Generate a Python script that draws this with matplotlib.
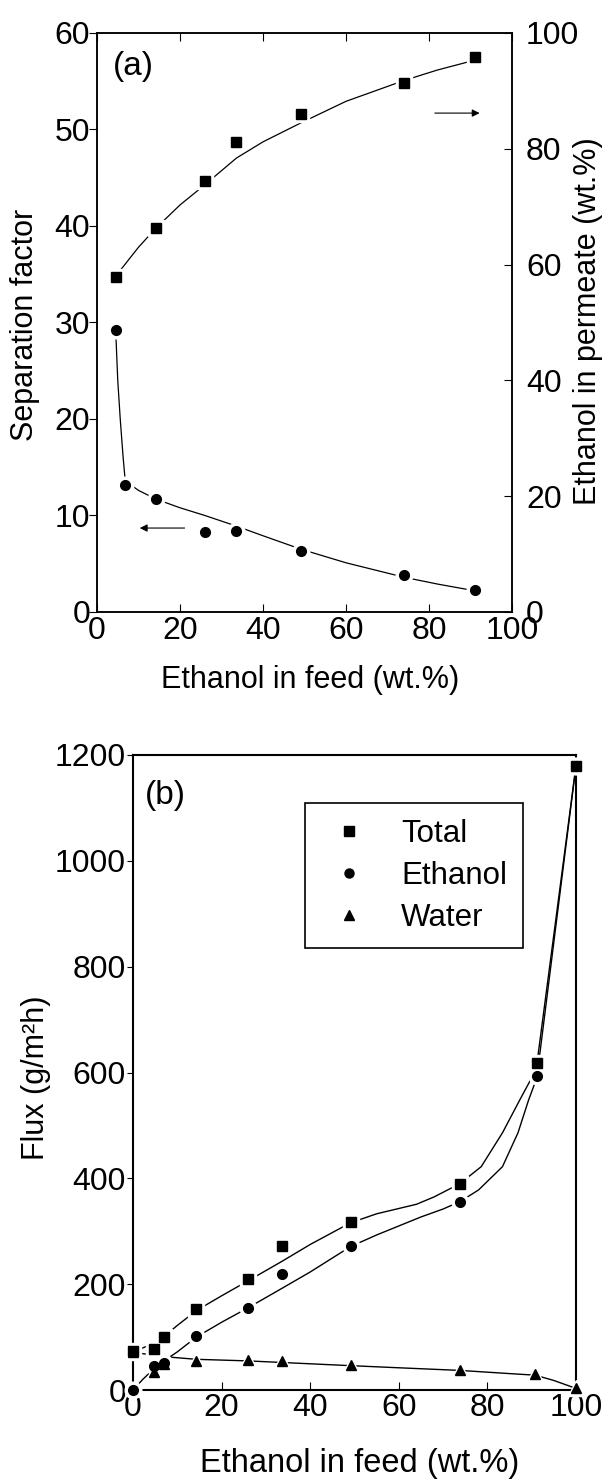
import matplotlib
matplotlib.use("Agg")
import matplotlib.pyplot as plt
from matplotlib.lines import Line2D

plt.rcParams['font.family'] = ['Liberation Sans', 'DejaVu Sans']

# (a) separation factor / permeate composition vs feed composition
feed_sep = [4.5, 6.8, 14.2, 26.0, 33.6, 49.2, 74.0, 91.0]
sep_factor = [29.2, 13.2, 11.7, 8.3, 8.4, 6.35, 3.8, 2.3]
feed_perm = [4.5, 14.2, 26.0, 33.6, 49.2, 74.0, 91.0]
perm_ethanol = [57.9, 66.3, 74.4, 81.1, 86.0, 91.4, 95.8]

# fitted curves
sep_fit_x = [4.5, 5.0, 5.6, 6.3, 6.8, 10, 14.2, 20, 26, 33.6, 40, 49.2, 60, 74, 82, 91]
sep_fit_y = [29.2, 24.0, 20.0, 16.0, 13.6, 12.6, 11.7, 10.8, 10.0, 8.9, 7.9, 6.5, 5.1, 3.6, 2.9, 2.2]
perm_fit_x = [4.5, 10, 14.2, 20, 26, 33.6, 40, 49.2, 60, 74, 82, 91]
perm_fit_y = [58.0, 63.0, 66.3, 70.3, 73.8, 78.4, 81.2, 84.5, 88.2, 91.8, 93.6, 95.3]

# (b) fluxes
feed_flux = [0, 4.7, 7.0, 14.3, 25.9, 33.6, 49.1, 73.8, 91.2, 100]
flux_total = [74, 78, 101, 154, 209, 272, 318, 390, 618, 1180]
flux_ethanol = [0, 45, 51, 102, 155, 219, 273, 356, 593, 1180]
feed_water = [0, 4.7, 7.0, 14.3, 25.9, 33.6, 49.1, 73.8, 90.8, 100]
flux_water = [72, 34, 50, 54, 56, 54, 48, 38, 31, 3]

total_fit_x = [0, 4.7, 7, 10, 14.3, 20, 25.9, 33.6, 40, 49.1, 55, 60, 64, 68, 73.8, 78.6, 83.4, 87.3, 90, 91.2, 100]
total_fit_y = [72, 88, 101, 122, 150, 178, 206, 243, 275, 316, 333, 343, 351, 365, 390, 422, 486, 548, 590, 618, 1180]
eth_fit_x = [0, 2.2, 4.7, 7, 10, 14.3, 20, 25.9, 33.6, 40, 49.1, 55, 60, 65, 70, 73.8, 78, 83.4, 86.9, 89.3, 90.5, 91.2, 100]
eth_fit_y = [0, 20, 40, 55, 72, 100, 128, 155, 192, 223, 271, 293, 310, 327, 342, 356, 378, 422, 486, 548, 575, 593, 1180]
water_fit_x = [0, 4.7, 7, 14.3, 25.9, 33.6, 49.1, 60, 73.8, 85, 90.8, 95, 100]
water_fit_y = [71, 66, 63, 58, 55, 52, 46, 42, 37, 31, 28, 18, 3]

TICK = 23
LAB = 22


def halo(ax, x, y, marker, ms=7):
    # white patch under each marker, gives the little gaps in the curves
    ax.plot(x, y, linestyle='none', marker=marker, ms=ms + 5, color='white',
            zorder=3, clip_on=False)


def points(ax, x, y, marker, ms=7, z=4):
    ax.plot(x, y, linestyle='none', marker=marker, ms=ms, color='black',
            zorder=z, clip_on=False)


fig = plt.figure(figsize=(6.08, 14.83), dpi=100)

# ---------------- panel (a)
ax1 = fig.add_axes([97 / 608, 1 - 612 / 1483, 415 / 608, 579 / 1483])
ax1r = ax1.twinx()

ax1.plot(sep_fit_x, sep_fit_y, color='black', lw=0.9, zorder=2)
halo(ax1, feed_sep, sep_factor, 'o')
points(ax1, feed_sep, sep_factor, 'o')
ax1r.plot(perm_fit_x, perm_fit_y, color='black', lw=0.9, zorder=2)
halo(ax1r, feed_perm, perm_ethanol, 's')
points(ax1r, feed_perm, perm_ethanol, 's')

ax1.set_xlim(0, 100)
ax1.set_ylim(0, 60)
ax1r.set_ylim(0, 100)
ax1.set_xticks([0, 20, 40, 60, 80, 100])
ax1.set_yticks([0, 10, 20, 30, 40, 50, 60])
ax1r.set_yticks([0, 20, 40, 60, 80, 100])

ax1.tick_params(axis='x', direction='in', top=True, length=6, width=0.8,
                labelsize=TICK, pad=3)
ax1.tick_params(axis='y', direction='out', right=False, length=6, width=0.8,
                labelsize=TICK, pad=-1)
ax1r.tick_params(axis='y', direction='in', length=6, width=0.8,
                 labelsize=TICK, pad=10)
for a in (ax1, ax1r):
    for s in a.spines.values():
        s.set_linewidth(1.1)

ax1.set_xlabel('Ethanol in feed (wt.%)', fontsize=LAB)
ax1.xaxis.set_label_coords(0.513, -0.117)
ax1.xaxis.label.set_va('center')
ax1.set_ylabel('Separation factor', fontsize=LAB)
ax1.yaxis.set_label_coords(-0.1735, 0.496)
ax1.yaxis.label.set_va('center')
ax1r.set_ylabel('Ethanol in permeate (wt.%)', fontsize=LAB, rotation=90)
ax1r.yaxis.set_label_coords(1.183, 0.503)
ax1r.yaxis.label.set_va('center')

ax1.text(3.9, 56.5, '(a)', fontsize=24, ha='left', va='center')
ax1.annotate('', xy=(92.2, 51.7), xytext=(81.4, 51.7),
             arrowprops=dict(arrowstyle='-|>', color='black', lw=0.8,
                             mutation_scale=11, shrinkA=0, shrinkB=0))
ax1.annotate('', xy=(10.3, 8.7), xytext=(21.1, 8.7),
             arrowprops=dict(arrowstyle='-|>', color='black', lw=0.8,
                             mutation_scale=11, shrinkA=0, shrinkB=0))

# ---------------- panel (b)
ax2 = fig.add_axes([133 / 608, 1 - 1390 / 1483, 443 / 608, 635 / 1483])

ax2.plot(total_fit_x, total_fit_y, color='black', lw=1.0, zorder=2)
ax2.plot(eth_fit_x, eth_fit_y, color='black', lw=1.0, zorder=2)
ax2.plot(water_fit_x, water_fit_y, color='black', lw=1.0, zorder=2)
halo(ax2, feed_water, flux_water, '^')
halo(ax2, feed_flux, flux_ethanol, 'o')
halo(ax2, feed_flux, flux_total, 's')
points(ax2, feed_water, flux_water, '^', z=4)
points(ax2, feed_flux, flux_ethanol, 'o', z=5)
points(ax2, feed_flux, flux_total, 's', z=6)

ax2.set_xlim(0, 100)
ax2.set_ylim(0, 1200)
ax2.set_xticks([0, 20, 40, 60, 80, 100])
ax2.set_yticks([0, 200, 400, 600, 800, 1000, 1200])
ax2.tick_params(axis='x', direction='in', length=6, width=0.8,
                labelsize=TICK, pad=2)
ax2.tick_params(axis='y', direction='out', length=4, width=0.8,
                labelsize=TICK, pad=1)
for s in ax2.spines.values():
    s.set_linewidth(1.5)

ax2.set_xlabel('Ethanol in feed (wt.%)', fontsize=23.5)
ax2.xaxis.set_label_coords(0.512, -0.115)
ax2.xaxis.label.set_va('center')
ax2.set_ylabel('Flux (g/m²h)', fontsize=LAB)
ax2.yaxis.set_label_coords(-0.219, 0.491)
ax2.yaxis.label.set_va('center')

ax2.text(2.7, 1123, '(b)', fontsize=24, ha='left', va='center')

handles = [Line2D([], [], linestyle='none', marker=m, ms=6.5, color='black')
           for m in ('s', 'o', '^')]
leg = ax2.legend(handles, ['Total', 'Ethanol', 'Water'], loc='upper left',
                 bbox_to_anchor=(0.388, 0.924), fontsize=22.5, frameon=True,
                 fancybox=False, edgecolor='black', framealpha=1,
                 handlelength=1.8, handletextpad=0.78, borderpad=0.5,
                 labelspacing=0.38, borderaxespad=0)
leg.get_frame().set_linewidth(1.2)

fig.savefig('out.png', dpi=100)
